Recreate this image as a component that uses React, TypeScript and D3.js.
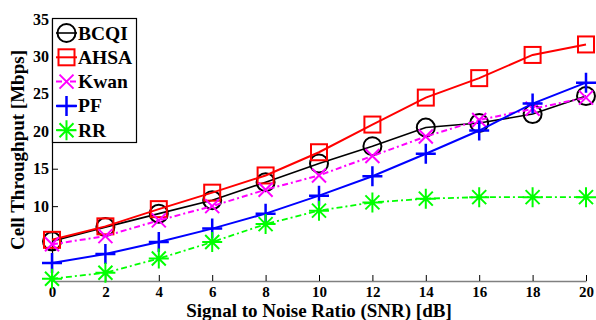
import React, { useEffect, useRef } from "react";
import * as d3 from "d3";

const snr = [0, 2, 4, 6, 8, 10, 12, 14, 16, 18, 20];
const bcqi = [5.3, 7.2, 9.0, 10.8, 13.2, 15.7, 18.0, 20.5, 21.1, 22.3, 24.7];
const ahsa = [5.5, 7.3, 9.6, 11.8, 14.1, 17.2, 20.9, 24.5, 27.1, 30.2, 31.6];
const kwan = [4.9, 6.0, 8.1, 10.0, 12.2, 14.1, 16.7, 19.3, 21.5, 23.0, 24.5];
const pf = [2.4, 3.6, 5.2, 7.0, 9.0, 11.4, 14.0, 17.0, 20.1, 23.7, 26.5];
const rr = [0.3, 1.1, 3.0, 5.2, 7.6, 9.4, 10.5, 11.0, 11.2, 11.2, 11.2];
const yTicks = [10, 15, 20, 25, 30, 35];
const xTicks = [0, 2, 4, 6, 8, 10, 12, 14, 16, 18, 20];

const seriesList = [
  { name: "BCQI", values: bcqi, color: "#000000", marker: "circle", dash: null, lw: 1.6 },
  { name: "AHSA", values: ahsa, color: "#ff0000", marker: "square", dash: null, lw: 2 },
  { name: "Kwan", values: kwan, color: "#ff00ff", marker: "x", dash: "6,3,2,3", lw: 2 },
  { name: "PF", values: pf, color: "#0000ff", marker: "plus", dash: null, lw: 2 },
  { name: "RR", values: rr, color: "#00ff00", marker: "star", dash: "6,3,2,3", lw: 1.8 },
];

const W = 596, H = 320;
const margin = { top: 19, right: 10, bottom: 39, left: 52 };
const font = "Liberation Serif, Times New Roman, serif";

function drawMarker(g: any, type: string, cx: number, cy: number, color: string) {
  if (type === "circle") {
    g.append("circle").attr("cx", cx).attr("cy", cy).attr("r", 9)
      .attr("fill", "none").attr("stroke", color).attr("stroke-width", 2);
  } else if (type === "square") {
    g.append("rect").attr("x", cx - 8).attr("y", cy - 8).attr("width", 16).attr("height", 16)
      .attr("fill", "none").attr("stroke", color).attr("stroke-width", 2);
  } else if (type === "x") {
    const s = 7;
    g.append("path").attr("d", `M${cx - s},${cy - s}L${cx + s},${cy + s}M${cx - s},${cy + s}L${cx + s},${cy - s}`)
      .attr("stroke", color).attr("stroke-width", 2);
  } else if (type === "plus") {
    const s = 10;
    g.append("path").attr("d", `M${cx - s},${cy}L${cx + s},${cy}M${cx},${cy - s}L${cx},${cy + s}`)
      .attr("stroke", color).attr("stroke-width", 2.5);
  } else if (type === "star") {
    const s = 10, d = 7;
    g.append("path").attr("d",
      `M${cx - s},${cy}L${cx + s},${cy}M${cx},${cy - s}L${cx},${cy + s}` +
      `M${cx - d},${cy - d}L${cx + d},${cy + d}M${cx - d},${cy + d}L${cx + d},${cy - d}`)
      .attr("stroke", color).attr("stroke-width", 2);
  }
}

export default function App() {
  const ref = useRef<SVGSVGElement>(null);

  useEffect(() => {
    const svg = d3.select(ref.current);
    svg.selectAll("*").remove();

    const x = d3.scaleLinear().domain([0, 20]).range([margin.left, W - margin.right]);
    const y = d3.scaleLinear().domain([0, 35]).range([H - margin.bottom, margin.top]);

    // x axis (gray line, inward ticks)
    const xAxis = svg.append("g").attr("transform", `translate(0,${y(0)})`)
      .call(d3.axisBottom(x).tickValues(xTicks).tickSizeInner(-6).tickSizeOuter(0).tickPadding(5));
    xAxis.select(".domain").attr("stroke", "#808080").attr("stroke-width", 1.5);
    xAxis.selectAll(".tick line").attr("stroke", "#000");
    xAxis.selectAll("text").attr("font-family", font).attr("font-weight", "bold").attr("font-size", 15).attr("fill", "#000");

    // y axis
    const yAxis = svg.append("g").attr("transform", `translate(${margin.left},0)`)
      .call(d3.axisLeft(y).tickValues(yTicks).tickSizeInner(-6).tickSizeOuter(0).tickPadding(3));
    yAxis.select(".domain").attr("stroke", "#000").attr("stroke-width", 1.2);
    yAxis.selectAll("text").attr("font-family", font).attr("font-weight", "bold").attr("font-size", 16).attr("fill", "#000");

    // lines and markers
    seriesList.forEach(s => {
      const line = d3.line<number>().x((_, i) => x(snr[i])).y(v => y(v));
      svg.append("path").datum(s.values).attr("d", line as any)
        .attr("fill", "none").attr("stroke", s.color).attr("stroke-width", s.lw)
        .attr("stroke-dasharray", s.dash);
      const mg = svg.append("g");
      s.values.forEach((v, i) => drawMarker(mg, s.marker, x(snr[i]), y(v), s.color));
    });

    // legend
    const lg = svg.append("g");
    lg.append("rect").attr("x", 52.5).attr("y", 18.5).attr("width", 84).attr("height", 124)
      .attr("fill", "#fff").attr("stroke", "#000").attr("stroke-width", 1.2);
    seriesList.forEach((s, i) => {
      const cy = 33 + i * 24.3;
      lg.append("line").attr("x1", 56).attr("x2", 77).attr("y1", cy).attr("y2", cy)
        .attr("stroke", s.color).attr("stroke-width", s.lw).attr("stroke-dasharray", s.dash);
      drawMarker(lg, s.marker, 66.5, cy, s.color);
      lg.append("text").attr("x", 78).attr("y", cy + 6.5).text(s.name)
        .attr("font-family", font).attr("font-weight", "bold").attr("font-size", 19.5).attr("fill", "#000");
    });

    // axis titles
    svg.append("text").attr("transform", `translate(24,${(y(0) + y(35)) / 2}) rotate(-90)`)
      .attr("text-anchor", "middle").text("Cell Throughput [Mbps]")
      .attr("font-family", font).attr("font-weight", "bold").attr("font-size", 19);
    svg.append("text").attr("x", (x(0) + x(20)) / 2).attr("y", 317)
      .attr("text-anchor", "middle").text("Signal to Noise Ratio (SNR) [dB]")
      .attr("font-family", font).attr("font-weight", "bold").attr("font-size", 19);
  }, []);

  return (
    <svg ref={ref} width={W} height={H}
      style={{ position: "absolute", left: 0, top: 0, background: "#fff" }} />
  );
}
